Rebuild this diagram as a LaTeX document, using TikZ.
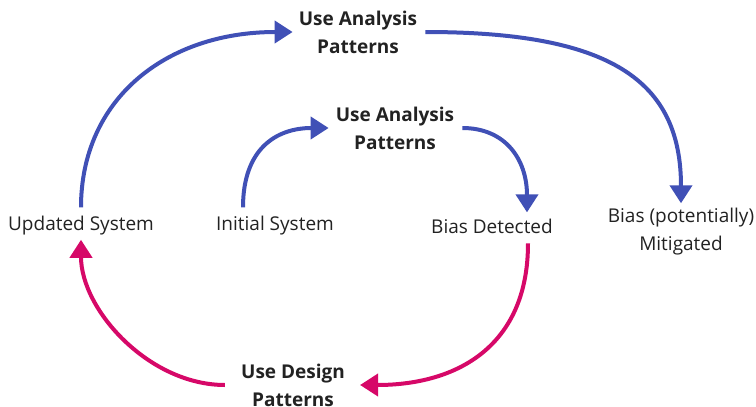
\documentclass[tikz,border=0pt]{standalone}
\usepackage{fontspec}
\setmainfont{Open Sans}
\usetikzlibrary{arrows.meta}
\definecolor{flowblue}{RGB}{64,80,182}
\definecolor{flowpink}{RGB}{214,8,104}
\definecolor{inktext}{RGB}{34,34,34}
\begin{document}
\begin{tikzpicture}[x=1pt,y=-1pt,
  label/.style={inner sep=0pt,text=inktext,font=\fontsize{19pt}{28pt}\selectfont},
  step label/.style={label,align=center,font=\fontsize{19pt}{28pt}\selectfont\bfseries},
  state label/.style={label,anchor=base},
  flow/.style={line width=4pt,-{Triangle[length=18pt,width=22pt]}},
  analysis/.style={flow,draw=flowblue},
  design/.style={flow,draw=flowpink}]
\useasboundingbox (0,0) rectangle (756,407);

% states of the system
\node[state label] (upd) at (81,230) {Updated System};
\node[state label] (ini) at (275,230) {Initial System};
\node[state label] (det) at (492,233) {Bias Detected};
\node[label,align=center] (mit) at (681,232) {Bias (potentially)\\Mitigated};

% pattern steps
\node[step label] (ua1) at (358,32) {Use Analysis\\Patterns};
\node[step label] (ua2) at (395,128) {Use Analysis\\Patterns};
\node[step label] (des) at (293,385) {Use Design\\Patterns};

% inner loop: analysis of the initial system
\draw[analysis] ([xshift=-32pt,yshift=8pt]ini.north)
  .. controls +(0,-58) and +(-53,0) .. ([xshift=-7pt]ua2.west);
\draw[analysis] ([xshift=8pt]ua2.east)
  .. controls +(43,0) and +(0,-53) .. ([xshift=35pt,yshift=6pt]det.north);

% design step back to the updated system
\draw[design] ([xshift=36pt,yshift=-10pt]det.south)
  .. controls +(0,102) and +(98,0) .. ([xshift=15pt]des.east);
\draw[design] ([xshift=-16pt]des.west)
  .. controls +(-76,0) and +(0,70) .. ([yshift=-5pt]upd.south);

% outer loop: analysis of the updated system
\draw[analysis] ([yshift=8pt]upd.north)
  .. controls +(0,-108) and +(-127,0) .. ([xshift=-6pt]ua1.west);
\draw[analysis] ([xshift=8pt]ua1.east)
  .. controls +(185,0) and +(0,-123) .. ([yshift=5pt]mit.north);
\end{tikzpicture}
\end{document}
